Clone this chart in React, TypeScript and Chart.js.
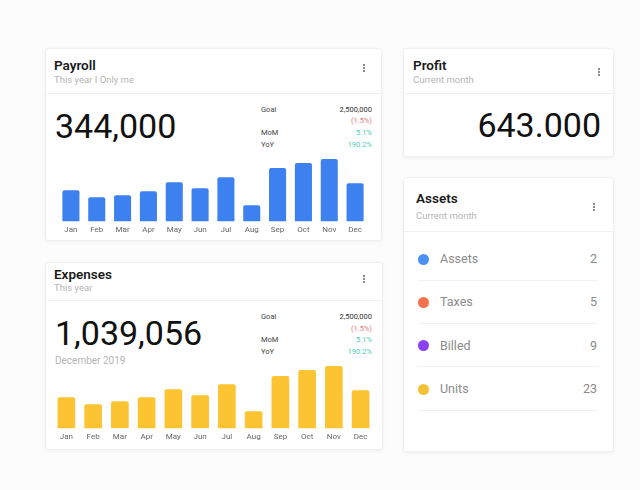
import React, { useEffect, useRef } from "react";
import { Chart, registerables } from "chart.js";

Chart.register(...registerables);

const months = ["Jan", "Feb", "Mar", "Apr", "May", "Jun", "Jul", "Aug", "Sep", "Oct", "Nov", "Dec"];
const payrollValues = [31, 24, 26, 30, 39, 33, 44, 16, 53, 58, 62, 38];
const expensesValues = [31, 24, 27, 31, 39, 33, 44, 17, 52, 58, 62, 38];
const statLabels = ["Goal", "", "MoM", "YoY"];
const statValues = ["2,500,000", "(1.5%)", "5.1%", "190.2%"];
const assetNames = ["Assets", "Taxes", "Billed", "Units"];
const assetCounts = [2, 5, 9, 23];
const assetColors = ["#4a8ff2", "#f2734c", "#8a42f0", "#f6c235"];

const FONT = "Roboto, 'Noto Sans', sans-serif";

type TP = {
  x: number;
  y: number;
  size: number;
  color?: string;
  weight?: number;
  align?: "left" | "right";
  children: React.ReactNode;
};

function T({ x, y, size, color = "#222", weight = 400, align = "left", children }: TP) {
  const lh = Math.round(size * 1.3);
  const style: React.CSSProperties = {
    position: "absolute",
    top: y - lh / 2,
    fontSize: size,
    lineHeight: lh + "px",
    color,
    fontWeight: weight,
    whiteSpace: "nowrap",
    fontFamily: FONT,
  };
  if (align === "left") style.left = x;
  else style.right = 640 - x;
  return <div style={style}>{children}</div>;
}

function Card({ x, y, w, h }: { x: number; y: number; w: number; h: number }) {
  return (
    <div
      style={{
        position: "absolute",
        left: x,
        top: y,
        width: w,
        height: h,
        background: "#fff",
        border: "1px solid #efefef",
        borderRadius: 3,
        boxShadow: "0 1px 4px rgba(0,0,0,0.05)",
        boxSizing: "border-box",
      }}
    />
  );
}

function HLine({ x, y, w }: { x: number; y: number; w: number }) {
  return <div style={{ position: "absolute", left: x, top: y, width: w, height: 1, background: "#f0f0f0" }} />;
}

function Kebab({ x, y }: { x: number; y: number }) {
  return (
    <div style={{ position: "absolute", left: x - 1, top: y - 4 }}>
      {[0, 1, 2].map((i) => (
        <div
          key={i}
          style={{ position: "absolute", left: 0, top: i * 3, width: 2, height: 2, borderRadius: 1, background: "#666" }}
        />
      ))}
    </div>
  );
}

function BarChart({
  values,
  color,
  left,
  top,
  width,
  height,
}: {
  values: number[];
  color: string;
  left: number;
  top: number;
  width: number;
  height: number;
}) {
  const ref = useRef<HTMLCanvasElement>(null);
  useEffect(() => {
    if (!ref.current) return;
    const chart = new Chart(ref.current, {
      type: "bar",
      data: {
        labels: months,
        datasets: [
          {
            data: values,
            backgroundColor: color,
            borderRadius: 2,
            categoryPercentage: 1,
            barPercentage: 0.66,
          },
        ],
      },
      options: {
        animation: false,
        responsive: false,
        maintainAspectRatio: false,
        layout: { padding: 0 },
        plugins: { legend: { display: false }, tooltip: { enabled: false } },
        scales: {
          x: {
            grid: { display: false, drawTicks: false },
            border: { display: false },
            ticks: {
              color: "#666",
              font: { family: FONT, size: 8 },
              padding: 4,
              maxRotation: 0,
              autoSkip: false,
            },
          },
          y: { display: false, min: 0, max: 70 },
        },
      },
    });
    return () => chart.destroy();
  }, [values, color]);
  return (
    <canvas
      ref={ref}
      width={width}
      height={height}
      style={{ position: "absolute", left, top, width, height }}
    />
  );
}

function Stats({ x1, x2, y0 }: { x1: number; x2: number; y0: number }) {
  const colors = ["#333", "#e57e7e", "#4ecdb9", "#4ecdb9"];
  const step = 11.7;
  return (
    <>
      {statLabels.map((l, i) =>
        l ? (
          <T key={"l" + i} x={x1} y={y0 + i * step} size={7.5} color="#444">
            {l}
          </T>
        ) : null
      )}
      {statValues.map((v, i) => (
        <T key={"v" + i} x={x2} y={y0 + i * step} size={7.5} color={colors[i]} align="right">
          {v}
        </T>
      ))}
    </>
  );
}

export default function App() {
  return (
    <div
      style={{
        position: "fixed",
        left: 0,
        top: 0,
        width: 640,
        height: 490,
        background: "#fcfcfc",
        overflow: "hidden",
        fontFamily: FONT,
      }}
    >
      {/* Payroll */}
      <Card x={45} y={48} w={337} h={193} />
      <T x={54} y={65} size={13.5} weight={600} color="#1a1a1a">Payroll</T>
      <T x={54} y={79.5} size={9.5} color="#b5b5b5">This year I Only me</T>
      <Kebab x={364} y={68} />
      <HLine x={46} y={93} w={335} />
      <T x={55} y={126} size={34} color="#111">344,000</T>
      <Stats x1={261} x2={372} y0={109.5} />
      <BarChart values={payrollValues} color="#3d80f0" left={58} top={151} width={310} height={88} />

      {/* Expenses */}
      <Card x={45} y={262} w={338} h={188} />
      <T x={54} y={273.5} size={13.5} weight={600} color="#1a1a1a">Expenses</T>
      <T x={54} y={287.5} size={9.5} color="#b5b5b5">This year</T>
      <Kebab x={364} y={279} />
      <HLine x={46} y={300} w={336} />
      <T x={55} y={333} size={34} color="#111">1,039,056</T>
      <T x={55} y={360} size={10} color="#b5b5b5">December 2019</T>
      <Stats x1={261} x2={372} y0={317} />
      <BarChart values={expensesValues} color="#fcc332" left={53} top={358} width={321} height={88} />

      {/* Profit */}
      <Card x={403} y={48} w={211} h={109} />
      <T x={413} y={65} size={13.5} weight={600} color="#1a1a1a">Profit</T>
      <T x={413} y={79.5} size={9.5} color="#b5b5b5">Current month</T>
      <Kebab x={599} y={72} />
      <HLine x={404} y={93} w={209} />
      <T x={601} y={125} size={34} color="#111" align="right">643.000</T>

      {/* Assets */}
      <Card x={403} y={177} w={211} h={275} />
      <T x={416} y={198} size={13.5} weight={600} color="#1a1a1a">Assets</T>
      <T x={416} y={216} size={9.5} color="#b5b5b5">Current month</T>
      <Kebab x={594} y={207} />
      <HLine x={404} y={231} w={209} />
      {assetNames.map((n, i) => {
        const cy = 259 + i * 43.4;
        return (
          <React.Fragment key={n}>
            <div
              style={{
                position: "absolute",
                left: 418,
                top: cy - 5.5,
                width: 11,
                height: 11,
                borderRadius: "50%",
                background: assetColors[i],
              }}
            />
            <T x={440} y={cy} size={12.5} color="#8a8a8a">{n}</T>
            <T x={597} y={cy} size={12.5} color="#8a8a8a" align="right">{assetCounts[i]}</T>
            <HLine x={418} y={cy + 20.5} w={180} />
          </React.Fragment>
        );
      })}
    </div>
  );
}
